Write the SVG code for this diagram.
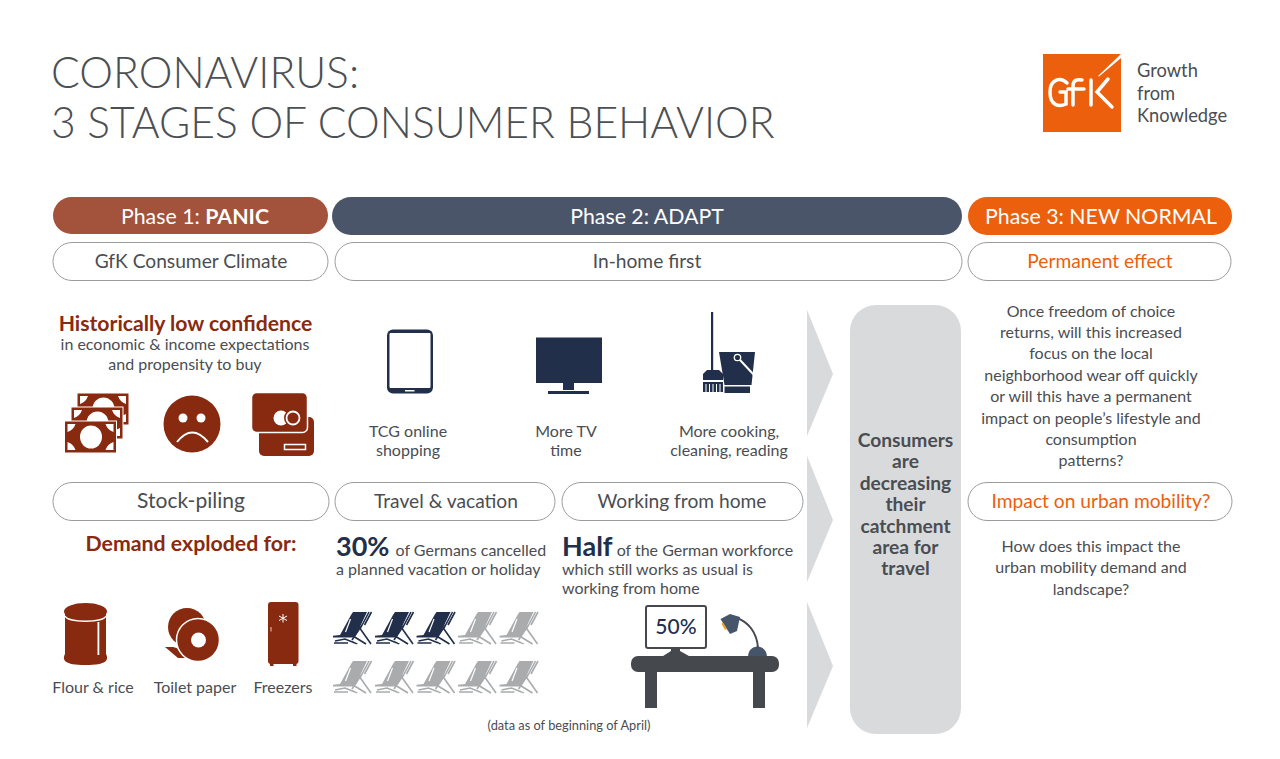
<svg xmlns="http://www.w3.org/2000/svg" width="1280" height="759" viewBox="0 0 1280 759">
<style>
text{font-family:Lato,"Open Sans","Liberation Sans",sans-serif;fill:#4a4d52;}
.m{text-anchor:middle}
.title{font-size:42.6px;font-weight:300;fill:#4c4f54}
.ph{font-size:21.300px;fill:#fff;text-anchor:middle}
.pill{fill:#fff;stroke:#9a9c9f;stroke-width:1}
.pt{font-size:19.200px;text-anchor:middle}
.b{font-size:16px}
.red{fill:#882a10}
.navy{fill:#212f4b}
.org{fill:#ec5f0c}
.chev{fill:#d9dadc}
</style>
<defs>
<g id="chair">
<path d="M20 0H34L24 21 21 25.500H0V23.700L7 23 12 14 18 3Z" fill="currentColor"/>
<path d="M17.500 7 12.500 20" stroke="#fff" stroke-width="1.200" fill="none"/>
<path d="M36 0 27 17M38.500 0 31.500 13M26 15 38 32M20 24 33 32M29 13 19 28M1 31H15M2 29 12 27 22 31" stroke="currentColor" stroke-width="1.600" fill="none"/>
<path d="M20 29.500 25 31.500 23 32.500Z" fill="currentColor"/>
</g>
<g id="bill">
<rect x="0" y="0" width="52" height="32" class="red" stroke="#fff" stroke-width="1"/>
<ellipse cx="26.500" cy="16" rx="11" ry="11.500" fill="#fff"/>
<path d="M3 3H11Q9 9 3 11ZM49 3H41Q43 9 49 11ZM3 29H11Q9 23 3 21ZM49 29H41Q43 23 49 21Z" fill="#fff"/>
</g>
</defs>
<g id="title">
<text class="title" x="51" y="88">CORONAVIRUS:</text>
<text class="title" x="51" y="138">3 STAGES OF CONSUMER BEHAVIOR</text>
</g>
<g id="logo">
<rect x="1043" y="54" width="78" height="78" class="org"/>
<path d="M1121 54 1098 76 1099 76.500 1121 58Z" fill="#fff"/>
<path d="M1067 83C1060 76 1050 80 1050 92 1050 106 1059 107 1066 104V92H1060M1073 105V86C1073 80 1077 79 1082 80M1068 89H1084M1091 80V105M1108 79 1097 92 1112 107" stroke="#fff" stroke-width="3.500" stroke-linecap="round" fill="none"/>
<text x="1137" y="76.500" font-size="18.300">Growth</text>
<text x="1137" y="99.500" font-size="18.300">from</text>
<text x="1137" y="122" font-size="18.300">Knowledge</text>
</g>
<g id="phases">
<g id="phase1"><rect x="53" y="197" width="275" height="37" rx="18.500" fill="#a3523c"/><text class="ph" x="195" y="224">Phase 1: <tspan font-weight="700" style="fill:#fff">PANIC</tspan></text></g>
<g id="phase2"><rect x="332" y="197" width="630" height="38" rx="19" fill="#4a5569"/><text class="ph" x="647" y="224">Phase 2: ADAPT</text></g>
<g id="phase3"><rect x="968" y="197" width="264" height="38" rx="19" class="org"/><text class="ph" x="1101" y="224">Phase 3: NEW NORMAL</text></g>
</g>
<g id="subheaders">
<g id="climate"><rect x="53" y="242.500" width="275" height="38" rx="19" class="pill"/><text class="pt" x="191" y="268">GfK Consumer Climate</text></g>
<g id="inhome"><rect x="335" y="242.500" width="627" height="38" rx="19" class="pill"/><text class="pt" x="647" y="268">In-home first</text></g>
<g id="permanent"><rect x="968" y="242.500" width="263" height="38" rx="19" class="pill"/><text class="pt" x="1100" y="268" style="fill:#ec5f0c">Permanent effect</text></g>
<g id="stock"><rect x="53" y="482.500" width="276" height="38" rx="19" class="pill"/><text class="pt" x="191" y="508" style="font-size:21px">Stock-piling</text></g>
<g id="travel"><rect x="335" y="482.500" width="220" height="38" rx="19" class="pill"/><text class="pt" x="446" y="508">Travel &amp; vacation</text></g>
<g id="wfh"><rect x="562" y="482.500" width="241" height="38" rx="19" class="pill"/><text class="pt" x="682" y="508">Working from home</text></g>
<g id="urban"><rect x="968" y="482.500" width="264" height="38" rx="19" class="pill"/><text class="pt" x="1101" y="508" style="fill:#ec5f0c">Impact on urban mobility?</text></g>
</g>
<g id="confidence">
<text class="m" x="185.500" y="331" font-size="21.200" font-weight="700" style="fill:#882a10">Historically low confidence</text>
<text class="m b" x="185" y="350">in economic &amp; income expectations</text>
<text class="m b" x="185" y="370">and propensity to buy</text>
<g id="money">
<use href="#bill" x="77" y="393"/><use href="#bill" x="71" y="407"/><use href="#bill" x="64.500" y="421"/>
</g>
<g id="sad">
<circle cx="192" cy="424" r="28.500" class="red"/>
<circle cx="183" cy="418" r="4.500" fill="#fff"/><circle cx="201" cy="418" r="4.500" fill="#fff"/>
<path d="M177 442Q192 423 208 442" stroke="#fff" stroke-width="2" fill="none"/>
</g>
<g id="cards">
<rect x="259" y="417" width="55" height="39" rx="5" class="red"/>
<rect x="251.500" y="392.500" width="56" height="40" rx="5" class="red" stroke="#fff" stroke-width="1.500"/>
<circle cx="281" cy="418" r="7.500" fill="#fff"/>
<circle cx="293" cy="418" r="9" class="red"/>
<circle cx="293" cy="418" r="6.500" class="red" stroke="#fff" stroke-width="1.800"/>
<rect x="284.500" y="444.500" width="21" height="5" fill="none" stroke="#fff" stroke-width="1.500"/>
</g>
</g>
<g id="demand">
<text class="m" x="191" y="551" font-size="21.300" font-weight="700" style="fill:#882a10">Demand exploded for:</text>
<g id="flour">
<path d="M65 612V654C62 660 64 665 85.500 665 107 665 109 660 106 654V612Z" class="red"/>
<ellipse cx="85.500" cy="611.500" rx="21.500" ry="8.500" class="red"/>
<path d="M65 616C68 623 103 623 106 616" stroke="#fff" stroke-width="1.300" fill="none"/>
<rect x="97.500" y="622" width="1.800" height="33" fill="#fff"/>
</g>
<g id="toilet">
<circle cx="187" cy="627" r="19" class="red"/>
<path d="M165 647H173L190 652V658H178Z" class="red"/>
<circle cx="198" cy="640" r="21.500" class="red" stroke="#fff" stroke-width="1.500"/>
<circle cx="198.500" cy="640" r="7.500" fill="#fff"/>
</g>
<g id="freezer">
<rect x="268" y="602" width="30.500" height="62" rx="3" class="red"/>
<path d="M270 663h3.500v3h-3.500zM293 663h3.500v3h-3.500z" class="red"/>
<rect x="270.500" y="627" width="1" height="4.500" fill="#e8c9bf"/>
<path d="M283 614V622.500M279 616 287 620.500M287 616 279 620.500" stroke="#fff" stroke-width="1"/>
</g>
<text class="b m" x="93" y="693">Flour &amp; rice</text>
<text class="b m" x="195" y="693">Toilet paper</text>
<text class="b m" x="283" y="693">Freezers</text>
</g>
<g id="adapt-icons">
<g id="tablet">
<rect x="387" y="329.500" width="46" height="64" rx="6" class="navy"/>
<rect x="389.500" y="333" width="41" height="55" rx="1" fill="#fff"/>
<rect x="405" y="390" width="9.500" height="1.500" fill="#fff"/>
</g>
<g id="tv">
<rect x="536" y="337.500" width="66" height="45.500" class="navy"/>
<rect x="563" y="383" width="11" height="7" class="navy"/>
<rect x="548" y="391" width="41" height="3" class="navy"/>
</g>
<g id="clean">
<rect x="711" y="312" width="2.200" height="58" class="navy"/>
<path d="M707 370H719L723 374V380H703V374Z" class="navy"/>
<path d="M703 382H723V392H720.500V384H719.500V392H717V384H716V392H713.500V384H712.500V392H710V384H709V392H706.500V384H705.500V392H703Z" class="navy"/>
<path d="M719 352H755L751.500 385H724.500Z" class="navy"/>
<rect x="724.500" y="386.500" width="25.500" height="6.500" class="navy"/>
<circle cx="737.500" cy="357.500" r="3.200" fill="none" stroke="#fff" stroke-width="1.300"/>
<path d="M740 360 754 375" stroke="#fff" stroke-width="2"/>
</g>
<text class="b m" x="408" y="437">TCG online</text>
<text class="b m" x="408" y="456">shopping</text>
<text class="b m" x="566" y="437">More TV</text>
<text class="b m" x="566" y="456">time</text>
<text class="b m" x="729" y="437">More cooking,</text>
<text class="b m" x="729" y="456">cleaning, reading</text>
</g>
<g id="vacation">
<text x="336" y="556" font-size="16"><tspan font-size="27" font-weight="700" style="fill:#212f4b">30%</tspan><tspan dx="2"> of Germans cancelled</tspan></text>
<text x="336" y="575" class="b">a planned vacation or holiday</text>
<g style="color:#212f4b">
<use href="#chair" x="333" y="612"/><use href="#chair" x="375" y="612"/><use href="#chair" x="416.500" y="612"/>
</g>
<g style="color:#a9abad">
<use href="#chair" x="458" y="612"/><use href="#chair" x="499.500" y="612"/>
<use href="#chair" x="333" y="661"/><use href="#chair" x="375" y="661"/><use href="#chair" x="416.500" y="661"/><use href="#chair" x="458" y="661"/><use href="#chair" x="499.500" y="661"/>
</g>
</g>
<g id="workforce">
<text x="562" y="556" font-size="16"><tspan font-size="27" font-weight="700" style="fill:#212f4b">Half</tspan> of the German workforce</text>
<text x="562" y="575" class="b">which still works as usual is</text>
<text x="562" y="594" class="b">working from home</text>
<g id="desk">
<rect x="646" y="606" width="60" height="42" rx="2" fill="#fff" stroke="#45484d" stroke-width="2"/>
<path d="M663 656 671 651V648H680V651L689 656Z" fill="#45484d"/>
<path d="M748 657C748 643 767 643 767 657Z" fill="#47556b"/>
<path d="M758 648C757 632 748 622 737 618" stroke="#45484d" stroke-width="2" fill="none"/>
<path d="M720.500 619 730 634 737 631 740 617 730 614Z" fill="#47556b"/>
<path d="M721.500 624 725 630 727 629 722.500 622Z" fill="#e8a92a"/>
<rect x="631" y="656" width="148" height="16" rx="7" fill="#45484d"/>
<rect x="645" y="670" width="12" height="38" fill="#45484d"/>
<rect x="753" y="670" width="12" height="38" fill="#45484d"/>
<text x="676" y="634" font-size="21" class="m" style="fill:#212f4b;font-weight:500">50%</text>
</g>
</g>
<g id="connectors">
<path class="chev" d="M807 310 833 374 807 436Z"/>
<path class="chev" d="M807 456 833 520 807 582Z"/>
<path class="chev" d="M807 602 833 666 807 728Z"/>
</g>
<g id="catchment">
<rect x="850" y="305" width="111" height="429" rx="26" fill="#d9dadc"/>
<g font-size="19.200" font-weight="700" text-anchor="middle">
<text x="905.500" y="447">Consumers</text>
<text x="905.500" y="468">are</text>
<text x="905.500" y="490">decreasing</text>
<text x="905.500" y="511">their</text>
<text x="905.500" y="533">catchment</text>
<text x="905.500" y="554">area for</text>
<text x="905.500" y="575">travel</text>
</g>
</g>
<g id="right-text" class="b" text-anchor="middle">
<text x="1091" y="317">Once freedom of choice</text>
<text x="1091" y="338">returns, will this increased</text>
<text x="1091" y="359">focus on the local</text>
<text x="1091" y="381">neighborhood wear off quickly</text>
<text x="1091" y="402">or will this have a permanent</text>
<text x="1091" y="424">impact on people’s lifestyle and</text>
<text x="1091" y="445">consumption</text>
<text x="1091" y="466">patterns?</text>
<text x="1091" y="552">How does this impact the</text>
<text x="1091" y="573">urban mobility demand and</text>
<text x="1091" y="595">landscape?</text>
</g>
<text id="note" class="m" x="569" y="730" font-size="12.800">(data as of beginning of April)</text>
</svg>
